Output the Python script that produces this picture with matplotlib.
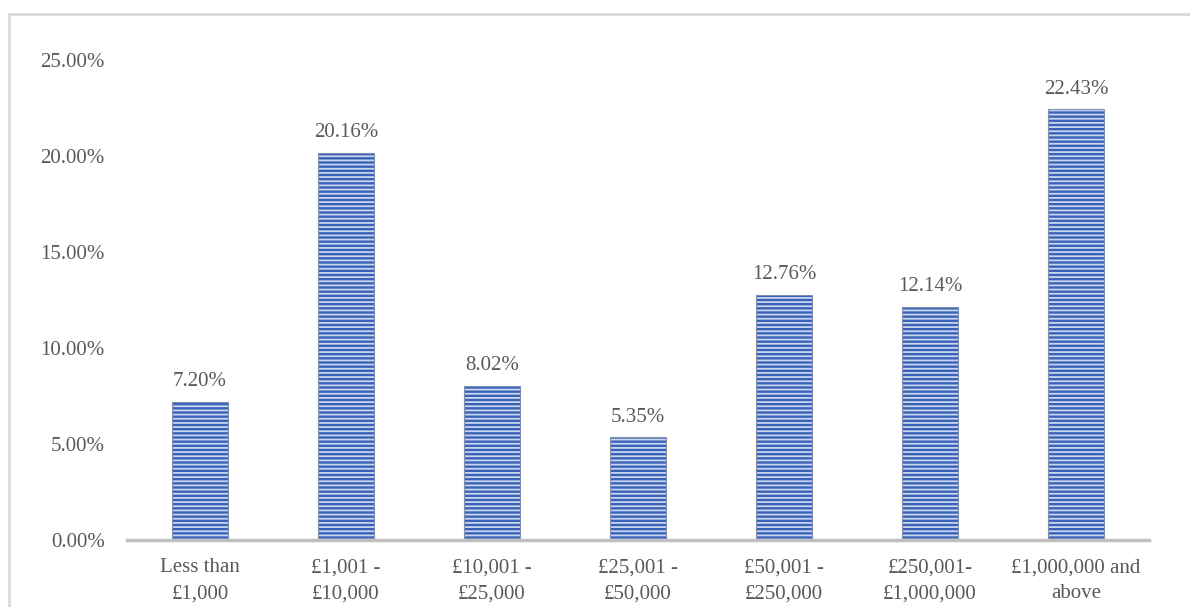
import numpy as np
import matplotlib
matplotlib.use("Agg")
import matplotlib.pyplot as plt
from matplotlib.patches import Rectangle

# bands of value and their share of respondents
categories = ["Less than\n£1,000", "£1,001 -\n£10,000", "£10,001 -\n£25,000",
              "£25,001 -\n£50,000", "£50,001 -\n£250,000", "£250,001-\n£1,000,000",
              "£1,000,000 and\nabove"]
shares = [7.20, 20.16, 8.02, 5.35, 12.76, 12.14, 22.43]
yticks = [0, 5, 10, 15, 20, 25]

plt.rcParams['font.family'] = ['Liberation Serif', 'DejaVu Serif']
plt.rcParams['hatch.linewidth'] = 1.3
txt_col = '#595959'
fs = 15

fig = plt.figure(figsize=(11.9, 6.07), dpi=100)
ax = fig.add_axes([127 / 1190, 1 - 540 / 607, (1149 - 127) / 1190, 480 / 607])

# outer chart border (cropped at right and bottom like the source)
fig.patches.append(Rectangle((9 / 1190, -0.1), 1.2, 1 - 14 / 607 + 0.1,
                             transform=fig.transFigure, fill=False,
                             edgecolor='#d9d9d9', linewidth=2))

x = np.arange(len(categories))
# striped fill: blue face, light hatch lines (hatch takes the edge colour)
ax.bar(x, shares, width=0.38, color='#3862b8', edgecolor='#c8d6ef',
       linewidth=0, hatch='----')
# thin outline on top
ax.bar(x, shares, width=0.38, fill=False, edgecolor='#8090b0', linewidth=0.8)

for xi, v in zip(x, shares):
    ax.text(xi, v + 0.55, f"{v:.2f}%", ha='center', va='bottom',
            fontsize=fs, color=txt_col, clip_on=False)

ax.set_xlim(-0.5, len(categories) - 0.5)
ax.set_ylim(0, 25)
ax.set_yticks(yticks)
ax.set_yticklabels([f"{t:.2f}%" for t in yticks])
ax.set_xticks(x)
ax.set_xticklabels(categories, linespacing=1.5)

for s in ['top', 'right', 'left']:
    ax.spines[s].set_visible(False)
ax.spines['bottom'].set_color('#bfbfbf')
ax.spines['bottom'].set_linewidth(2.5)
ax.spines['bottom'].set_zorder(3)
ax.tick_params(axis='both', length=0, labelsize=fs, colors=txt_col)
ax.tick_params(axis='y', pad=16)
ax.tick_params(axis='x', pad=13)

fig.savefig("out.png", dpi=100)
